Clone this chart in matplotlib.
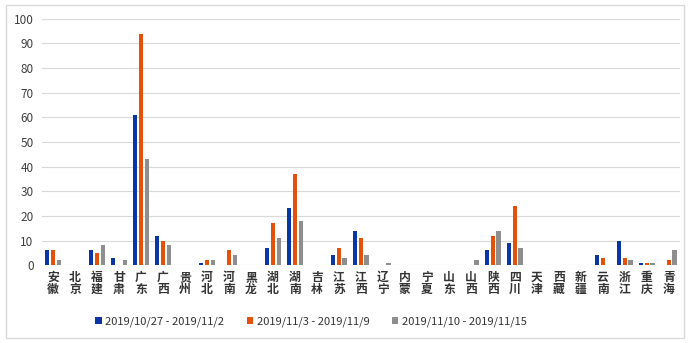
import matplotlib.pyplot as plt
from matplotlib.patches import Rectangle
import numpy as np

plt.rcParams['font.family'] = ['Noto Sans CJK SC', 'DejaVu Sans']

provinces = ['安徽', '北京', '福建', '甘肃', '广东', '广西', '贵州', '河北', '河南', '黑龙',
             '湖北', '湖南', '吉林', '江苏', '江西', '辽宁', '内蒙', '宁夏', '山东', '山西',
             '陕西', '四川', '天津', '西藏', '新疆', '云南', '浙江', '重庆', '青海']
week1 = [6, 0, 6, 3, 61, 12, 0, 1, 0, 0, 7, 23, 0, 4, 14, 0, 0, 0, 0, 0, 6, 9, 0, 0, 0, 4, 10, 1, 0]
week2 = [6, 0, 5, 0, 94, 10, 0, 2, 6, 0, 17, 37, 0, 7, 11, 0, 0, 0, 0, 0, 12, 24, 0, 0, 0, 3, 3, 1, 2]
week3 = [2, 0, 8, 2, 43, 8, 0, 2, 4, 0, 11, 18, 0, 3, 4, 1, 0, 0, 0, 2, 14, 7, 0, 0, 0, 0, 2, 1, 6]
series_labels = ['2019/10/27 - 2019/11/2', '2019/11/3 - 2019/11/9', '2019/11/10 - 2019/11/15']
colors = ['#0A35A5', '#E5500A', '#8E8E8E']

fig = plt.figure(figsize=(6.88, 3.43), dpi=100)
# 外框
fig.patches.append(Rectangle((0.008, 0.015), 0.986, 0.97, transform=fig.transFigure,
                             fill=False, edgecolor='#D9D9D9', linewidth=1))
ax = fig.add_axes([0.061, 0.227, 0.927, 0.718])

x = np.arange(len(provinces))
w = 0.19
for k, (vals, lab, c) in enumerate(zip([week1, week2, week3], series_labels, colors)):
    ax.bar(x + (k - 1) * 0.26, vals, width=w, color=c, label=lab, zorder=3)

ax.set_xlim(-0.5, len(provinces) - 0.5)
ax.set_ylim(0, 100)
ax.set_yticks(range(0, 101, 10))
ax.grid(axis='y', color='#D9D9D9', linewidth=0.8, zorder=0)
for s in ax.spines.values():
    s.set_visible(False)
ax.tick_params(axis='both', length=0, colors='#404040')
ax.tick_params(axis='y', labelsize=8.5, pad=6)
ax.set_xticks(x)
ax.set_xticklabels(['\n'.join(p) for p in provinces], fontsize=8.5, linespacing=0.95,
                   fontweight='bold', color='#333333')
ax.tick_params(axis='x', pad=4)

fig.legend(*ax.get_legend_handles_labels(), loc='center', bbox_to_anchor=(0.452, 0.061),
           ncol=3, frameon=False, fontsize=8, handlelength=0.6, handleheight=0.6,
           handletextpad=0.3, columnspacing=2.0, labelcolor='#333333')

fig.savefig('out.png', dpi=100)
